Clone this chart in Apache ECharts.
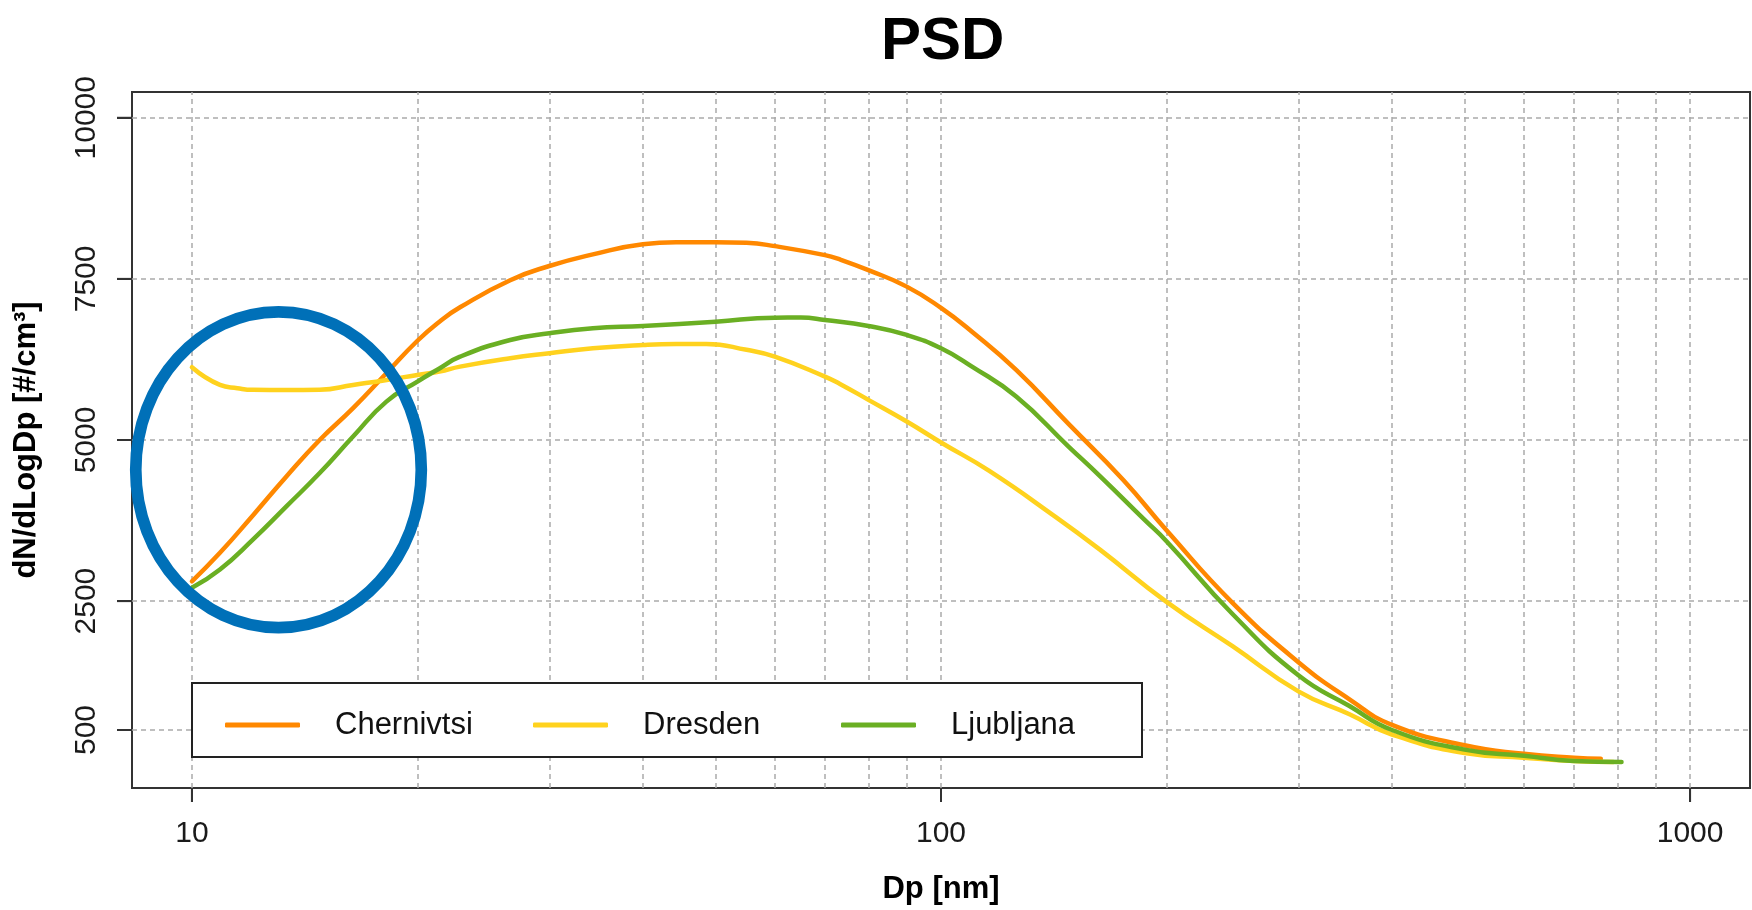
<!DOCTYPE html>
<html>
<head>
<meta charset="utf-8">
<title>PSD</title>
<script src="https://cdn.jsdelivr.net/npm/echarts@6/dist/echarts.min.js"></script>
<style>
  html, body { margin: 0; padding: 0; background: #ffffff; }
  #chart { width: 1752px; height: 910px; }
</style>
</head>
<body>
<div id="chart"></div>
<script>
// Particle size distributions, dN/dLogDp versus mobility diameter Dp (nm)
const seriesNames = ['Chernivtsi', 'Dresden', 'Ljubljana'];
const seriesColors = ['#FF8800', '#FFD21E', '#6AAF23'];

const chernivtsiDp = [10, 10.9, 12.06, 13.37, 14.81, 16.41, 18.18, 20, 21.4, 22.8, 26.6, 30, 34.3, 40, 44.3, 50, 55, 60, 70, 73.3, 80, 90, 100, 110, 126, 148, 175, 200, 245, 300, 351, 400, 500, 600, 700, 760];
const chernivtsiDn = [2808, 3250, 3830, 4435, 5000, 5494, 6036, 6540, 6836, 7059, 7480, 7700, 7880, 8039, 8070, 8070, 8060, 8008, 7869, 7802, 7636, 7380, 7050, 6680, 6087, 5250, 4384, 3600, 2474, 1553, 976, 580, 263, 130, 70, 55];

const dresdenDp = [10, 10.9, 11.5, 12.06, 13.37, 14.81, 16.41, 18.2, 20, 21.4, 22.8, 26.6, 30, 34.3, 40, 44.3, 48.6, 55, 60, 70, 73.3, 80, 90, 100, 116, 142.5, 163, 200, 245, 300, 351, 400, 500, 600, 700, 790];
const dresdenDn = [6129, 5855, 5804, 5778, 5775, 5780, 5855, 5932, 6010, 6061, 6139, 6269, 6346, 6423, 6475, 6490, 6490, 6400, 6293, 5984, 5870, 5623, 5287, 4961, 4520, 3800, 3299, 2489, 1800, 1100, 744, 430, 144, 70, 20, 5];

const ljubljanaDp = [10, 10.9, 12.06, 13.37, 14.81, 16.41, 18.18, 20, 21.4, 22.8, 26.6, 30, 34.3, 40, 50, 60, 65, 70, 80, 90, 100, 110, 126, 148, 163, 187, 200, 245, 300, 351, 400, 500, 600, 700, 810];
const ljubljanaDn = [2706, 2990, 3454, 3970, 4487, 5054, 5596, 5906, 6110, 6293, 6552, 6656, 6733, 6769, 6836, 6898, 6900, 6862, 6769, 6630, 6423, 6139, 5674, 4899, 4440, 3760, 3430, 2300, 1350, 872, 500, 195, 100, 20, 5];

// Axis ticks and grid
const xTickLabels = [10, 100, 1000];
const xGridValues = [10, 20, 30, 40, 50, 60, 70, 80, 90, 100, 200, 300, 400, 500, 600, 700, 800, 900, 1000];
const yTickLabels = [500, 2500, 5000, 7500, 10000];

// Axis extents: log10 range 0.92..3.08 and dN range -400..10400
const X_MIN = Math.pow(10, 0.92);
const X_MAX = Math.pow(10, 3.08);
const Y_MIN = -400;
const Y_MAX = 10400;

// Highlighted low-diameter region (centre in data units, half-widths in decades / dN units)
const highlightCentre = [13.05, 4538];
const highlightHalfDecades = 0.1906;
const highlightHalfDn = 2450;

const FONT = '"Liberation Sans", Arial, Helvetica, sans-serif';
const X_TICK_LEN = 14;
const Y_TICK_LEN = 15;
const TICK_WIDTH = 2;
const TICK_COLOR = '#333333';

function pairs(xs, ys) {
  return xs.map((x, i) => [x, ys[i]]);
}

const lineData = [
  pairs(chernivtsiDp, chernivtsiDn),
  pairs(dresdenDp, dresdenDn),
  pairs(ljubljanaDp, ljubljanaDn)
];

const gridLineStyle = { color: '#aaaaaa', width: 1.5, type: [5, 4] };
const frameStyle = { color: '#333333', width: 2 };

const chart = echarts.init(document.getElementById('chart'), null, { renderer: 'canvas' });

const dataSeries = seriesNames.map((name, i) => ({
  name: name,
  type: 'line',
  data: lineData[i],
  showSymbol: false,
  symbol: 'none',
  smooth: 0.5,
  z: 3,
  lineStyle: { color: seriesColors[i], width: 4.5, cap: 'round', join: 'round' },
  itemStyle: { color: seriesColors[i] },
  emphasis: { disabled: true }
}));

const gridSeries = {
  name: 'grid',
  type: 'line',
  data: [],
  silent: true,
  markLine: {
    silent: true,
    z: 1,
    symbol: ['none', 'none'],
    label: { show: false },
    lineStyle: gridLineStyle,
    emphasis: { disabled: true },
    animation: false,
    data: xGridValues.map(v => ({ xAxis: v })).concat(yTickLabels.map(v => ({ yAxis: v })))
  }
};

chart.setOption({
  animation: false,
  backgroundColor: '#ffffff',
  textStyle: { fontFamily: FONT },
  title: {
    text: 'PSD',
    left: 881,
    top: 12,
    padding: 0,
    textStyle: { fontFamily: FONT, fontSize: 60, fontWeight: 'bold', color: '#000000' }
  },
  grid: {
    left: 132,
    right: 2,
    top: 92,
    bottom: 121,
    show: true,
    borderColor: '#333333',
    borderWidth: 2,
    backgroundColor: 'transparent'
  },
  legend: {
    data: seriesNames,
    selectedMode: false,
    left: 192,
    top: 683,
    orient: 'horizontal',
    icon: 'roundRect',
    itemWidth: 75,
    itemHeight: 5,
    itemGap: 15,
    padding: [24, 8, 14, 33],
    borderColor: '#222222',
    borderWidth: 2,
    backgroundColor: '#ffffff',
    textStyle: {
      fontFamily: FONT,
      fontSize: 31,
      color: '#111111',
      width: 183,
      lineHeight: 36,
      padding: [0, 0, 0, 30]
    }
  },
  xAxis: {
    type: 'log',
    logBase: 10,
    min: X_MIN,
    max: X_MAX,
    name: 'Dp [nm]',
    nameLocation: 'middle',
    nameGap: 86,
    nameTextStyle: { fontFamily: FONT, fontSize: 31, fontWeight: 'bold', color: '#000000' },
    axisLine: { show: true, onZero: false, lineStyle: frameStyle },
    axisTick: {
      show: true,
      inside: false,
      length: X_TICK_LEN,
      customValues: xTickLabels,
      lineStyle: frameStyle
    },
    axisLabel: {
      show: true,
      customValues: xTickLabels,
      margin: 31,
      fontFamily: FONT,
      fontSize: 30,
      color: '#1a1a1a',
      formatter: v => String(Math.round(v))
    },
    splitLine: { show: false },
    minorTick: { show: false },
    minorSplitLine: { show: false }
  },
  yAxis: {
    type: 'value',
    min: Y_MIN,
    max: Y_MAX,
    name: 'dN/dLogDp [#/cm³]',
    nameLocation: 'middle',
    nameGap: 90,
    nameTextStyle: { fontFamily: FONT, fontSize: 31, fontWeight: 'bold', color: '#000000' },
    axisLine: { show: true, onZero: false, lineStyle: frameStyle },
    axisTick: {
      show: true,
      inside: false,
      length: Y_TICK_LEN,
      customValues: yTickLabels,
      lineStyle: frameStyle
    },
    axisLabel: {
      show: true,
      customValues: yTickLabels,
      rotate: 90,
      margin: 30,
      fontFamily: FONT,
      fontSize: 30,
      color: '#1a1a1a',
      formatter: v => String(v)
    },
    splitLine: { show: false }
  },
  series: [gridSeries].concat(dataSeries)
});

// Outward tick marks and the blue outline, positioned through the chart's own scales
function drawOverlays() {
  const elements = [];
  const yBase = chart.convertToPixel({ yAxisIndex: 0 }, Y_MIN);
  const xBase = chart.convertToPixel({ xAxisIndex: 0 }, X_MIN);
  xTickLabels.forEach(v => {
    const p = chart.convertToPixel({ xAxisIndex: 0 }, v);
    elements.push({
      type: 'rect',
      left: p - TICK_WIDTH / 2,
      top: yBase,
      z: 60,
      shape: { width: TICK_WIDTH, height: X_TICK_LEN },
      style: { fill: TICK_COLOR }
    });
  });
  yTickLabels.forEach(v => {
    const p = chart.convertToPixel({ yAxisIndex: 0 }, v);
    elements.push({
      type: 'rect',
      left: xBase - Y_TICK_LEN,
      top: p - TICK_WIDTH / 2,
      z: 60,
      shape: { width: Y_TICK_LEN, height: TICK_WIDTH },
      style: { fill: TICK_COLOR }
    });
  });

  const c = chart.convertToPixel({ gridIndex: 0 }, highlightCentre);
  const right = chart.convertToPixel({ gridIndex: 0 }, [highlightCentre[0] * Math.pow(10, highlightHalfDecades), highlightCentre[1]]);
  const top = chart.convertToPixel({ gridIndex: 0 }, [highlightCentre[0], highlightCentre[1] + highlightHalfDn]);
  elements.push({
    type: 'ellipse',
    z: 100,
    shape: { cx: c[0], cy: c[1], rx: Math.abs(right[0] - c[0]), ry: Math.abs(c[1] - top[1]) },
    style: { fill: 'none', stroke: '#0070B8', lineWidth: 11.7 }
  });

  chart.setOption({ graphic: { elements: elements } });
}
drawOverlays();
</script>
</body>
</html>
